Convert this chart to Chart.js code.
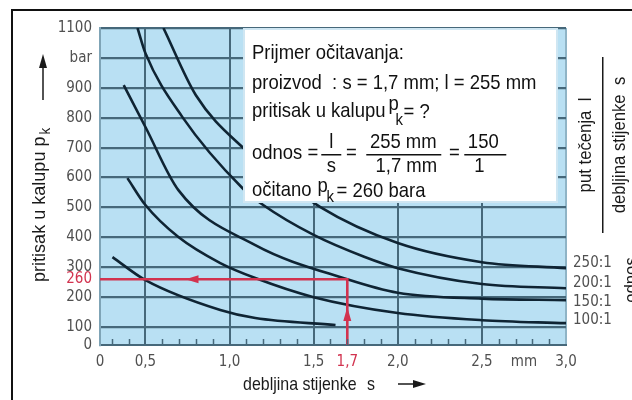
<!DOCTYPE html>
<html>
<head>
<meta charset="utf-8">
<script src="https://cdn.jsdelivr.net/npm/chart.js@4.4.1/dist/chart.umd.min.js"></script>
<style>
  html, body { margin: 0; padding: 0; background: #fff; }
  #wrap { width: 632px; height: 400px; position: relative; }
</style>
</head>
<body>
<div id="wrap"><canvas id="pressureChart" width="632" height="400"></canvas></div>
<script>
/* debljina stijenke s [mm] -> pritisak u kalupu p_k [bar], jedna krivulja po odnosu l/s */
const ratioLabels = ['250:1', '200:1', '150:1', '100:1'];

const curve250 = [[0.607, 1100], [0.8, 875], [1.076, 702], [1.54, 501], [2.0, 381], [2.5, 317], [3.0, 297]];
const curve200 = [[0.453, 1100], [0.5, 1016], [0.72, 802], [1.076, 565], [1.2, 508], [1.5, 408], [1.8, 335], [2.0, 297], [2.5, 244], [3.0, 230]];
const curve150 = [[0.371, 909], [0.5, 769], [0.696, 558], [1.153, 374], [1.7, 260], [2.0, 215], [2.5, 195], [3.0, 190]];
const curve100 = [[0.393, 598], [0.5, 508], [0.696, 401], [0.945, 314], [1.153, 264], [1.5, 200], [2.0, 147], [2.5, 123], [3.0, 113]];
// najniza krivulja, bez oznake
const curveLow = [[0.304, 334], [0.5, 257], [0.945, 157], [1.153, 130], [1.63, 107]];

// primjer ocitavanja
const exampleS = 1.7;
const exampleP = 260;

// osi
const X_START = 0.23;   // lijevi rub, oznacen s "0"
const Y_START = 40;     // donji rub, oznacen s "0"
const xTicks = [X_START, 0.5, 1.0, 1.5, exampleS, 2.0, 2.5, 2.75, 3.0];
const xTickText = ['0', '0,5', '1,0', '1,5', '1,7', '2,0', '2,5', 'mm', '3,0'];
const xGridValues = [0.5, 1.0, 1.5, 2.0, 2.5];
const xMinorTicks = [0.3, 0.4, 0.6, 0.7, 0.8, 0.9, 1.1, 1.2, 1.3, 1.4, 1.6, 1.7, 1.8, 1.9, 2.1, 2.2, 2.3, 2.4, 2.6, 2.7, 2.8, 2.9];
const yTicks = [Y_START, 100, 200, exampleP, 300, 400, 500, 600, 700, 800, 900, 1000, 1100];
const yTickText = ['0', '100', '200', '260', '300', '400', '500', '600', '700', '800', '900', 'bar', '1100'];

const BLUE = '#b9e0f3';
const GRID = '#46687a';
const CURVE = '#0f2433';
const RED = '#d2334f';
const TICK_GREY = '#505050';
const COND = '"DejaVu Sans Condensed", "DejaVu Sans", sans-serif';
const ARIAL = '"Liberation Sans", Arial, sans-serif';

const toPoints = arr => arr.map(p => ({ x: p[0], y: p[1] }));

function curveSet(arr) {
    return {
        data: toPoints(arr),
        showLine: true,
        borderColor: CURVE,
        borderWidth: 2.6,
        pointRadius: 0,
        cubicInterpolationMode: 'monotone',
        fill: false
    };
}

// uski tekst: Liberation Sans stisnut vodoravno, vraca x kraja teksta
function narrow(ctx, text, x, y, size, sx, align) {
    ctx.save();
    ctx.font = size + 'px ' + ARIAL;
    const w = ctx.measureText(text).width * sx;
    ctx.translate(x, y);
    ctx.scale(sx, 1);
    ctx.textAlign = align || 'left';
    ctx.textBaseline = 'middle';
    ctx.fillText(text, 0, 0);
    ctx.restore();
    return x + w;
}

const ratioCurves = [curve250, curve200, curve150, curve100];
const labelOffsets = [-5, -5, 2, -3];

// pozadina, okvir, tekstovi i strelice
const decorPlugin = {
    id: 'decor',
    beforeDraw(chart) {
        const ctx = chart.ctx;
        const a = chart.chartArea;
        ctx.save();
        ctx.fillStyle = '#fff';
        ctx.fillRect(0, 0, chart.width, chart.height);
        ctx.fillStyle = BLUE;
        ctx.fillRect(a.left, a.top, a.right - a.left, a.bottom - a.top);
        ctx.restore();
    },
    afterDatasetsDraw(chart) {
        const ctx = chart.ctx;
        const xs = chart.scales.x;
        const ys = chart.scales.y;
        const a = chart.chartArea;
        ctx.save();

        // male crtice na x osi
        ctx.strokeStyle = GRID;
        ctx.lineWidth = 1.5;
        xMinorTicks.forEach(v => {
            const px = Math.round(xs.getPixelForValue(v)) + 0.5;
            ctx.beginPath();
            ctx.moveTo(px, a.bottom);
            ctx.lineTo(px, a.bottom - 6);
            ctx.stroke();
        });

        // strelice na crvenim linijama
        ctx.fillStyle = RED;
        const hy = ys.getPixelForValue(exampleP);
        const hx = xs.getPixelForValue(0.78);
        ctx.beginPath();
        ctx.moveTo(hx - 7, hy);
        ctx.lineTo(hx + 6, hy - 4);
        ctx.lineTo(hx + 6, hy + 4);
        ctx.closePath();
        ctx.fill();
        const vx = xs.getPixelForValue(exampleS);
        const vy = ys.getPixelForValue(140);
        ctx.beginPath();
        ctx.moveTo(vx, vy - 8);
        ctx.lineTo(vx - 4, vy + 6);
        ctx.lineTo(vx + 4, vy + 6);
        ctx.closePath();
        ctx.fill();

        // okvir s primjerom
        const bx = 243, by = a.top, bw = 315, bh = 175;
        ctx.fillStyle = '#fff';
        ctx.fillRect(bx, by, bw, bh);
        ctx.strokeStyle = '#cfe6f2';
        ctx.lineWidth = 2;
        ctx.strokeRect(bx + 1, by + 1, bw - 2, bh - 2);

        ctx.fillStyle = '#111';
        const fz = 21, sx = 0.88;
        narrow(ctx, 'Prijmer očitavanja:', 252, 53, fz, sx);
        narrow(ctx, 'proizvod  : s = 1,7 mm; l = 255 mm', 252, 83, fz, sx);
        let e = narrow(ctx, 'pritisak u kalupu', 252, 111, fz, sx);
        narrow(ctx, 'p', e + 3, 104, fz, sx);
        narrow(ctx, 'k', e + 10, 120, 17, sx);
        narrow(ctx, '= ?', e + 18, 112, fz, sx);

        e = narrow(ctx, 'odnos =', 252, 153, fz, sx);
        const fx = e + 13;   // sredina razlomka l/s
        narrow(ctx, 'l', fx, 142, fz, sx, 'center');
        narrow(ctx, 's', fx, 166, fz, sx, 'center');
        ctx.fillRect(fx - 10, 154, 20, 1.5);
        narrow(ctx, '=', fx + 20, 153, fz, sx, 'center');
        narrow(ctx, '255 mm', fx + 72, 142, fz, sx, 'center');
        narrow(ctx, '1,7 mm', fx + 75, 166, fz, sx, 'center');
        ctx.fillRect(fx + 35, 154, 75, 1.5);
        narrow(ctx, '=', fx + 123, 153, fz, sx, 'center');
        narrow(ctx, '150', fx + 152, 142, fz, sx, 'center');
        narrow(ctx, '1', fx + 148, 166, fz, sx, 'center');
        ctx.fillRect(fx + 133, 154, 42, 1.5);

        e = narrow(ctx, 'očitano', 252, 190, fz, sx);
        narrow(ctx, 'p', e + 6, 186, fz, sx);
        narrow(ctx, 'k', e + 15, 197, 17, sx);
        narrow(ctx, '= 260 bara', e + 25, 191, fz, sx);

        ctx.restore();
    },
    afterDraw(chart) {
        const ctx = chart.ctx;
        const ys = chart.scales.y;
        const a = chart.chartArea;
        ctx.save();

        // vanjski okvir
        ctx.strokeStyle = '#111';
        ctx.lineWidth = 2;
        ctx.strokeRect(12, 10, 640, 410);

        // oznake odnosa na desnom kraju krivulja
        ctx.fillStyle = TICK_GREY;
        ctx.font = '15px ' + COND;
        ctx.textBaseline = 'middle';
        ctx.textAlign = 'left';
        ratioCurves.forEach((c, i) => {
            const yp = ys.getPixelForValue(c[c.length - 1][1]) + labelOffsets[i];
            ctx.fillText(ratioLabels[i], a.right + 7, yp);
        });

        // naslov x osi
        ctx.fillStyle = '#1a1a1a';
        narrow(ctx, 'debljina stijenke', 243, 385, 19, 0.84);
        narrow(ctx, 's', 367, 385, 19, 0.84);
        ctx.strokeStyle = '#1a1a1a';
        ctx.lineWidth = 1.5;
        ctx.beginPath();
        ctx.moveTo(398, 384);
        ctx.lineTo(416, 384);
        ctx.stroke();
        ctx.beginPath();
        ctx.moveTo(426, 384);
        ctx.lineTo(413, 380);
        ctx.lineTo(413, 388);
        ctx.closePath();
        ctx.fill();

        // naslov y osi
        ctx.save();
        ctx.translate(40, 282);
        ctx.rotate(-Math.PI / 2);
        const w = narrow(ctx, 'pritisak u kalupu p', 0, 0, 19, 0.95);
        narrow(ctx, 'k', w + 2, 6, 14, 0.95);
        ctx.restore();
        ctx.beginPath();
        ctx.moveTo(43, 100);
        ctx.lineTo(43, 66);
        ctx.stroke();
        ctx.beginPath();
        ctx.moveTo(43, 54);
        ctx.lineTo(39, 68);
        ctx.lineTo(47, 68);
        ctx.closePath();
        ctx.fill();

        // odnos l / s, desno
        ctx.save();
        ctx.translate(586, 145);
        ctx.rotate(-Math.PI / 2);
        narrow(ctx, 'put tečenja  l', 0, 0, 19, 0.88, 'center');
        narrow(ctx, 'debljina stijenke  s', 0, 34, 19, 0.88, 'center');
        ctx.fillRect(-88, 16, 176, 1.5);
        narrow(ctx, 'odnos', -135, 46, 19, 0.88, 'center');
        ctx.restore();

        ctx.restore();
    }
};

const chart = new Chart(document.getElementById('pressureChart').getContext('2d'), {
    type: 'scatter',
    data: {
        datasets: [
            {
                data: toPoints([[exampleS, Y_START], [exampleS, exampleP], [X_START, exampleP]]),
                showLine: true,
                borderColor: RED,
                borderWidth: 2.6,
                pointRadius: 0,
                tension: 0,
                fill: false
            },
            curveSet(curveLow),
            ...ratioCurves.map(curveSet)
        ]
    },
    options: {
        responsive: false,
        animation: false,
        devicePixelRatio: 1,
        layout: { padding: { left: 0, right: 66, top: 28, bottom: 0 } },
        plugins: {
            legend: { display: false },
            tooltip: { enabled: false }
        },
        scales: {
            x: {
                type: 'linear',
                min: X_START,
                max: 3.0,
                afterFit: s => { s.height = 55; },
                afterBuildTicks: s => { s.ticks = xTicks.map(v => ({ value: v })); },
                border: { display: true, color: GRID, width: 2 },
                grid: {
                    drawTicks: false,
                    lineWidth: 2,
                    color: c => (c.tick && xGridValues.includes(c.tick.value)) ? GRID : (c.tick && c.tick.value === 3.0 ? '#8fb4c6' : 'rgba(0,0,0,0)')
                },
                ticks: {
                    autoSkip: false,
                    maxRotation: 0,
                    padding: 8,
                    font: { family: COND, size: 15 },
                    color: c => c.tick && c.tick.value === exampleS ? RED : TICK_GREY,
                    callback: (v, i) => xTickText[i]
                }
            },
            y: {
                type: 'linear',
                min: Y_START,
                max: 1100,
                afterFit: s => { s.width = 100; },
                afterBuildTicks: s => { s.ticks = yTicks.map(v => ({ value: v })); },
                border: { display: true, color: '#7fa4b6', width: 2 },
                grid: {
                    drawTicks: false,
                    lineWidth: 2.2,
                    color: c => (c.tick && (c.tick.value === exampleP || c.tick.value === Y_START)) ? 'rgba(0,0,0,0)' : GRID
                },
                ticks: {
                    autoSkip: false,
                    padding: 8,
                    font: { family: COND, size: 15 },
                    color: c => c.tick && c.tick.value === exampleP ? RED : TICK_GREY,
                    callback: (v, i) => yTickText[i]
                }
            }
        }
    },
    plugins: [decorPlugin]
});
</script>
</body>
</html>
